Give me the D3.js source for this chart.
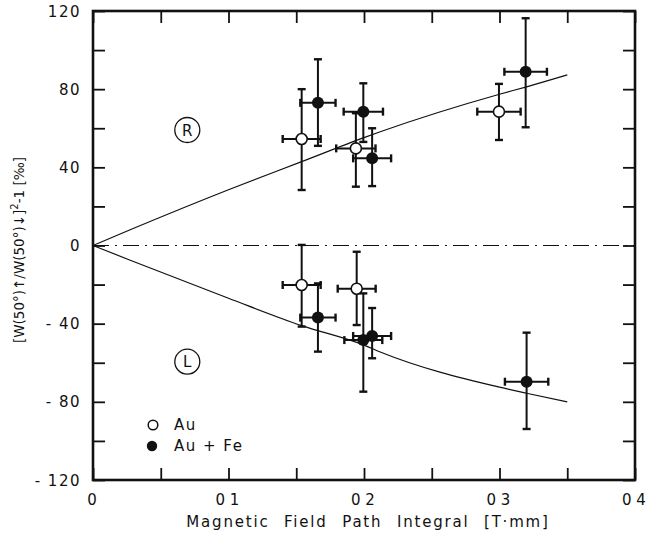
<!DOCTYPE html>
<html>
<head>
<meta charset="utf-8">
<script src="https://cdn.jsdelivr.net/npm/d3@7"></script>
<style>
  body { margin: 0; background: #fff; }
  text { font-family: "DejaVu Sans", sans-serif; fill: #111; }
</style>
</head>
<body>
<div id="chart"></div>
<script>
// x ticks / y ticks
var xTickValues = [0, 0.1, 0.2, 0.3, 0.4];
var xTickLabels = ["0", "0 1", "0 2", "0 3", "0 4"];
var yTickValues = [120, 80, 40, 0, -40, -80, -120];

// Au (open circles)
var auX = [0.154, 0.194, 0.2996, 0.154, 0.1946];
var auY = [54.5, 49.7, 68.5, -20.2, -22.1];
var auYLo = [28.4, 30.1, 54, -41.5, -40.7];
var auYHi = [80, 67.7, 82.7, 0.3, -3.2];
var auXErr = [0.014, 0.0145, 0.016, 0.014, 0.014];

// Au + Fe (filled circles)
var feX = [0.166, 0.1995, 0.206, 0.3193, 0.166, 0.1995, 0.206, 0.32];
var feY = [73, 68.5, 44.6, 88.9, -36.9, -48.4, -46.3, -69.7];
var feYLo = [51, 53, 30.4, 60.5, -54.3, -74.8, -57.7, -93.9];
var feYHi = [95.3, 83, 60, 116.3, -19.4, -24.5, -32, -44.6];
var feXErr = [0.013, 0.0145, 0.014, 0.0157, 0.013, 0.014, 0.014, 0.016];

// theory curves
var curveX = [0, 0.027, 0.1, 0.154, 0.2, 0.212, 0.3, 0.32, 0.35];
var curveR = [0, 7.9, 28.5, 42.9, 55.2, 58.2, 77.4, 81.2, 87.3];
var curveL = [0, -7.4, -27, -41, -51, -54.5, -72.5, -75.6, -80];

var w = 647, h = 539;
var svg = d3.select("#chart").append("svg").attr("width", w).attr("height", h).style("background", "#ffffff");

var scale_x = d3.scaleLinear().domain([0, 0.4]).range([93, 635]);
var scale_y = d3.scaleLinear().domain([-120, 120]).range([480, 11]);

// zero line, dash-dot
svg.append("line")
    .attr("x1", scale_x(0)).attr("x2", scale_x(0.4))
    .attr("y1", scale_y(0)).attr("y2", scale_y(0))
    .attr("stroke", "#111").attr("stroke-width", 1.2)
    .attr("stroke-dasharray", "16,6,2,6");

// curves
var line_generator = d3.line().x(function (d) { return scale_x(d[0]); }).y(function (d) { return scale_y(d[1]); }).curve(d3.curveMonotoneX);
svg.append("path").attr("d", line_generator(curveX.map(function (x, i) { return [x, curveR[i]]; })))
    .attr("fill", "none").attr("stroke", "#111").attr("stroke-width", 1.2);
svg.append("path").attr("d", line_generator(curveX.map(function (x, i) { return [x, curveL[i]]; })))
    .attr("fill", "none").attr("stroke", "#111").attr("stroke-width", 1.2);

// axes: frame with inward ticks
var tick = 12;
var gx1 = svg.append("g").attr("transform", "translate(0," + scale_y(-120) + ")")
    .call(d3.axisTop(scale_x).tickValues(d3.range(0, 0.401, 0.05)).tickSize(tick).tickFormat(""));
var gx2 = svg.append("g").attr("transform", "translate(0," + scale_y(120) + ")")
    .call(d3.axisBottom(scale_x).tickValues(d3.range(0, 0.401, 0.05)).tickSize(tick).tickFormat(""));
var gy1 = svg.append("g").attr("transform", "translate(" + scale_x(0) + ",0)")
    .call(d3.axisRight(scale_y).tickValues(d3.range(-120, 121, 20)).tickSize(tick).tickFormat(""));
var gy2 = svg.append("g").attr("transform", "translate(" + scale_x(0.4) + ",0)")
    .call(d3.axisLeft(scale_y).tickValues(d3.range(-120, 121, 20)).tickSize(tick).tickFormat(""));
[gx1, gx2, gy1, gy2].forEach(function (g) {
    g.select(".domain").remove();
    g.selectAll(".tick line").attr("stroke", "#111").attr("stroke-width", 1.8);
});
svg.append("rect")
    .attr("x", scale_x(0)).attr("y", scale_y(120))
    .attr("width", scale_x(0.4) - scale_x(0)).attr("height", scale_y(-120) - scale_y(120))
    .attr("fill", "none").attr("stroke", "#111").attr("stroke-width", 2.6);

// tick labels
svg.selectAll("text.xl").data(xTickValues).enter().append("text").attr("class", "xl")
    .attr("x", function (d) { return scale_x(d) - 1; }).attr("y", 505)
    .attr("text-anchor", "middle").attr("font-size", 15)
    .text(function (d, i) { return xTickLabels[i]; });
svg.selectAll("text.yl").data(yTickValues).enter().append("text").attr("class", "yl")
    .attr("x", 81).attr("y", function (d) { return scale_y(d) + 5.5; })
    .attr("text-anchor", "end").attr("font-size", 15).attr("letter-spacing", 1.5)
    .text(function (d) { return d < 0 ? "- " + Math.abs(d) : d; });

// axis titles
svg.append("text").attr("x", 368).attr("y", 527).attr("text-anchor", "middle")
    .attr("font-size", 15).attr("letter-spacing", 1.8).attr("word-spacing", 8)
    .text("Magnetic Field Path Integral [T·mm]");
var yt = svg.append("text").attr("transform", "translate(24,250) rotate(-90)").attr("text-anchor", "middle")
    .attr("font-size", 13.5);
yt.append("tspan").text("[W(50°)↑/W(50°)↓]");
yt.append("tspan").attr("dy", -6).attr("font-size", 10).text("2");
yt.append("tspan").attr("dy", 6).text("-1 [‰]");

// error bars
function drawErrors(xs, ys, lo, hi, xe) {
    var g = svg.append("g").attr("stroke", "#111");
    xs.forEach(function (x, i) {
        var cx = scale_x(x), cy = scale_y(ys[i]);
        var x0 = scale_x(x - xe[i]), x1 = scale_x(x + xe[i]);
        var y0 = scale_y(lo[i]), y1 = scale_y(hi[i]);
        g.append("line").attr("x1", cx).attr("x2", cx).attr("y1", y0).attr("y2", y1).attr("stroke-width", 2);
        g.append("line").attr("x1", x0).attr("x2", x1).attr("y1", cy).attr("y2", cy).attr("stroke-width", 2);
        g.append("line").attr("x1", cx - 4).attr("x2", cx + 4).attr("y1", y0).attr("y2", y0).attr("stroke-width", 2.4);
        g.append("line").attr("x1", cx - 4).attr("x2", cx + 4).attr("y1", y1).attr("y2", y1).attr("stroke-width", 2.4);
        g.append("line").attr("x1", x0).attr("x2", x0).attr("y1", cy - 4).attr("y2", cy + 4).attr("stroke-width", 2.4);
        g.append("line").attr("x1", x1).attr("x2", x1).attr("y1", cy - 4).attr("y2", cy + 4).attr("stroke-width", 2.4);
    });
}
drawErrors(auX, auY, auYLo, auYHi, auXErr);
drawErrors(feX, feY, feYLo, feYHi, feXErr);

svg.selectAll("circle.au").data(auX).enter().append("circle").attr("class", "au")
    .attr("cx", function (d) { return scale_x(d); }).attr("cy", function (d, i) { return scale_y(auY[i]); })
    .attr("r", 5.5).attr("fill", "#fff").attr("stroke", "#111").attr("stroke-width", 1.6);
svg.selectAll("circle.fe").data(feX).enter().append("circle").attr("class", "fe")
    .attr("cx", function (d) { return scale_x(d); }).attr("cy", function (d, i) { return scale_y(feY[i]); })
    .attr("r", 6).attr("fill", "#111");

// region marks R and L
[["R", 130], ["L", 361.7]].forEach(function (m) {
    svg.append("circle").attr("cx", 187.3).attr("cy", m[1]).attr("r", 12.5)
        .attr("fill", "none").attr("stroke", "#111").attr("stroke-width", 1.3);
    svg.append("text").attr("x", 187.3).attr("y", m[1] + 5.5).attr("text-anchor", "middle")
        .attr("font-size", 15).text(m[0]);
});

// legend
svg.append("circle").attr("cx", 153).attr("cy", 425).attr("r", 4.8)
    .attr("fill", "#fff").attr("stroke", "#111").attr("stroke-width", 1.5);
svg.append("text").attr("x", 174).attr("y", 430).attr("font-size", 15).attr("letter-spacing", 1.5).text("Au");
svg.append("circle").attr("cx", 152).attr("cy", 446).attr("r", 5.2).attr("fill", "#111");
svg.append("text").attr("x", 174).attr("y", 451).attr("font-size", 15).attr("letter-spacing", 1.5).text("Au + Fe");
</script>
</body>
</html>
